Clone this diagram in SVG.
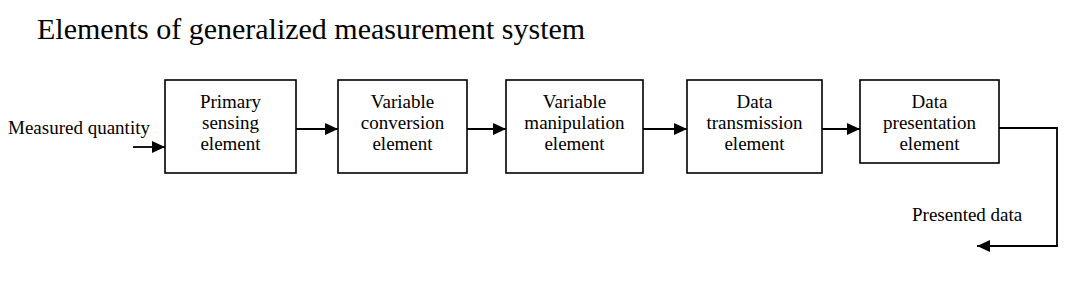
<svg xmlns="http://www.w3.org/2000/svg" width="1074" height="284" viewBox="0 0 1074 284">
<style>
text{font-family:"Liberation Serif","Times New Roman",serif;fill:#000}
.lbl{font-size:19px;text-anchor:middle}
.box{fill:#fff;stroke:#000;stroke-width:1.6}
.con{fill:none;stroke:#000;stroke-width:1.8}
</style>
<defs>
<marker id="ah" markerUnits="userSpaceOnUse" markerWidth="14" markerHeight="12" refX="13" refY="6" orient="auto">
<path d="M0,0 L13,6 L0,12 Z" fill="#000"/>
</marker>
</defs>
<rect width="1074" height="284" fill="#fff"/>
<text x="37" y="39" font-size="30">Elements of generalized measurement system</text>
<text x="8" y="134" font-size="19">Measured quantity</text>
<text x="912" y="221" font-size="19">Presented data</text>
<g id="n1"><rect class="box" x="165" y="80" width="131" height="93"/>
<text class="lbl" x="230.5" y="108">Primary</text><text class="lbl" x="230.5" y="129">sensing</text><text class="lbl" x="230.5" y="150">element</text></g>
<g id="n2"><rect class="box" x="338" y="80" width="129" height="93"/>
<text class="lbl" x="402.5" y="108">Variable</text><text class="lbl" x="402.5" y="129">conversion</text><text class="lbl" x="402.5" y="150">element</text></g>
<g id="n3"><rect class="box" x="506" y="80" width="137" height="93"/>
<text class="lbl" x="574.5" y="108">Variable</text><text class="lbl" x="574.5" y="129">manipulation</text><text class="lbl" x="574.5" y="150">element</text></g>
<g id="n4"><rect class="box" x="687" y="80" width="135" height="93"/>
<text class="lbl" x="754.5" y="108">Data</text><text class="lbl" x="754.5" y="129">transmission</text><text class="lbl" x="754.5" y="150">element</text></g>
<g id="n5"><rect class="box" x="860" y="80" width="139" height="83"/>
<text class="lbl" x="929.5" y="108">Data</text><text class="lbl" x="929.5" y="129">presentation</text><text class="lbl" x="929.5" y="150">element</text></g>
<g id="connectors">
<line class="con" x1="133" y1="147" x2="165" y2="147" marker-end="url(#ah)"/>
<line class="con" x1="296" y1="129" x2="338" y2="129" marker-end="url(#ah)"/>
<line class="con" x1="467" y1="129" x2="506" y2="129" marker-end="url(#ah)"/>
<line class="con" x1="643" y1="129" x2="687" y2="129" marker-end="url(#ah)"/>
<line class="con" x1="822" y1="129" x2="860" y2="129" marker-end="url(#ah)"/>
<polyline class="con" points="999,128 1057,128 1057,246 977,246" marker-end="url(#ah)"/>
</g>
</svg>
